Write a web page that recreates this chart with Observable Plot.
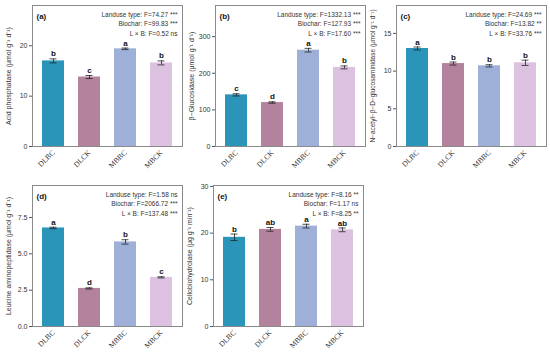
<!DOCTYPE html>
<html><head><meta charset="utf-8">
<script src="https://cdn.jsdelivr.net/npm/d3@7"></script>
<script src="https://cdn.jsdelivr.net/npm/@observablehq/plot@0.6"></script>
<style>
body{margin:0;background:#fff;}
#root{position:relative;width:550px;height:352px;overflow:hidden;}
#root svg{position:absolute;overflow:visible;}
</style>
</head><body><div id="root"></div>
<script>
const treatments = ["DLBC","DLCK","MBBC","MBCK"];
const barColors = ["#2b94b9","#b3829c","#9fb0d8","#dcc1e0"];

const acpMean = [17.0, 13.8, 19.4, 16.6];
const acpErr = [0.4, 0.3, 0.15, 0.4];
const acpLetters = ["b","c","a","b"];
const acpStats = ["Landuse type: F=74.27 ***","Biochar: F=99.83 ***","L × B: F=0.52 ns"];

const bgMean = [141, 120, 263, 216];
const bgErr = [3, 2, 5, 4];
const bgLetters = ["c","d","a","b"];
const bgStats = ["Landuse type: F=1332.13 ***","Biochar: F=127.93 ***","L × B: F=17.60 ***"];

const nagMean = [13.0, 11.0, 10.7, 11.1];
const nagErr = [0.2, 0.2, 0.15, 0.35];
const nagLetters = ["a","b","b","b"];
const nagStats = ["Landuse type: F=24.69 ***","Biochar: F=13.82 **","L × B: F=33.76 ***"];

const lapMean = [6.78, 2.62, 5.82, 3.38];
const lapErr = [0.05, 0.04, 0.15, 0.04];
const lapLetters = ["a","d","b","c"];
const lapStats = ["Landuse type: F=1.58 ns","Biochar: F=2066.72 ***","L × B: F=137.48 ***"];

const cbhMean = [19.1, 20.8, 21.5, 20.7];
const cbhErr = [0.7, 0.4, 0.4, 0.4];
const cbhLetters = ["b","ab","a","ab"];
const cbhStats = ["Landuse type: F=8.16 **","Biochar: F=1.17 ns","L × B: F=8.25 **"];

const panels = [
  {tag:"(a)", label:"Acid phosphatase (μmol g⁻¹ d⁻¹)", labelSize:7, mean:acpMean, err:acpErr, letters:acpLetters, stats:acpStats, ymax:28, ticks:[0,10,20], fmt:d3.format("d"), svgLeft:0, svgTop:0, frameLeft:32, frameTop:5},
  {tag:"(b)", label:"β−Glucosidase (μmol g⁻¹ d⁻¹)", labelSize:7, mean:bgMean, err:bgErr, letters:bgLetters, stats:bgStats, ymax:385, ticks:[0,100,200,300], fmt:d3.format("d"), svgLeft:180, svgTop:0, frameLeft:215, frameTop:5},
  {tag:"(c)", label:"N−acetyl−β−D−glucosaminidase (μmol g⁻¹ d⁻¹)", labelSize:6.5, mean:nagMean, err:nagErr, letters:nagLetters, stats:nagStats, ymax:18.7, ticks:[0,5,10,15], fmt:d3.format("d"), svgLeft:365, svgTop:0, frameLeft:396, frameTop:5},
  {tag:"(d)", label:"Leucine aminopeptidase (μmol g⁻¹ d⁻¹)", labelSize:7, mean:lapMean, err:lapErr, letters:lapLetters, stats:lapStats, ymax:9.7, ticks:[0,2.5,5,7.5], fmt:d3.format(".1f"), svgLeft:0, svgTop:175, frameLeft:32, frameTop:10},
  {tag:"(e)", label:"Cellobiohydrolase (μg g⁻¹ min⁻¹)", labelSize:7, mean:cbhMean, err:cbhErr, letters:cbhLetters, stats:cbhStats, ymax:30.2, ticks:[0,10,20,30], fmt:d3.format("d"), svgLeft:180, svgTop:175, frameLeft:213, frameTop:10}
];

const root = document.getElementById("root");
const frameW = 150, frameH = 141;

for (const p of panels) {
  const data = treatments.map((t, i) => ({t, m: p.mean[i], e: p.err[i], l: p.letters[i]}));
  const marginLeft = p.frameLeft - p.svgLeft;
  const mt = p.frameTop;
  const width = marginLeft + frameW + 4;
  const height = mt + frameH + 30;
  const chart = Plot.plot({
    width, height,
    marginLeft, marginTop: mt, marginRight: 4, marginBottom: 30,
    style: {fontFamily: "Liberation Sans, Arial, sans-serif", fontSize: "7px", background: "transparent", color: "#333"},
    x: {domain: treatments, paddingInner: 0.39, paddingOuter: 0.265},
    y: {domain: [0, p.ymax]},
    color: {domain: treatments, range: barColors},
    marks: [
      Plot.barY(data, {x: "t", y: "m", fill: "t"}),
      Plot.ruleX(data, {x: "t", y1: d => d.m - d.e, y2: d => d.m + d.e, stroke: "#222", strokeWidth: 0.8}),
      Plot.tickY(data, {x: "t", y: d => d.m + d.e, stroke: "#222", strokeWidth: 0.8, insetLeft: 7.5, insetRight: 7.5}),
      Plot.tickY(data, {x: "t", y: d => d.m - d.e, stroke: "#222", strokeWidth: 0.8, insetLeft: 7.5, insetRight: 7.5}),
      Plot.text(data, {x: "t", y: d => d.m + d.e, text: "l", dy: -5, fontWeight: "bold", fontSize: 8, fill: "#111"}),
      Plot.axisY({ticks: p.ticks, tickFormat: p.fmt, tickSize: 3, tickPadding: 2, label: null, fontSize: 7, stroke: "#555", color: "#333"}),
      Plot.axisX({tickRotate: -45, tickSize: 0, tickPadding: 5, label: null, fontFamily: "Liberation Serif, Times New Roman, serif", fontSize: 7.5}),
      Plot.frame({stroke: "#8a8a8a", strokeWidth: 1}),
      Plot.text([p.tag], {frameAnchor: "top-left", dx: 4, dy: 8, text: d => d, fontWeight: "bold", fontSize: 8, fill: "#111", textAnchor: "start"}),
      Plot.text([p.stats.join("\n")], {frameAnchor: "top-right", dx: -5, dy: 5, text: d => d, textAnchor: "end", lineAnchor: "top", lineHeight: 1.43, fontSize: 6.5, fill: "#333"}),
      Plot.text([p.label], {frameAnchor: "left", dx: -24, rotate: -90, text: d => d, textAnchor: "middle", lineAnchor: "middle", fontSize: p.labelSize, fill: "#333"})
    ]
  });
  chart.style.left = p.svgLeft + "px";
  chart.style.top = p.svgTop + "px";
  root.appendChild(chart);
}
</script>
</body></html>
